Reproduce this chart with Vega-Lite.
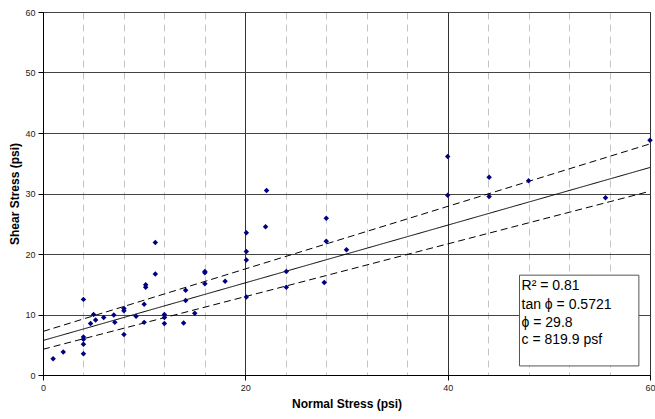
{
  "$schema": "https://vega.github.io/schema/vega-lite/v6.json",
  "autosize": "none",
  "width": 607,
  "height": 363,
  "padding": {"left": 43, "top": 12, "right": 5, "bottom": 44},
  "background": "white",
  "config": {
    "font": "Liberation Sans",
    "view": {"stroke": "#555555", "strokeWidth": 1}
  },
  "datasets": {
    "points": [
      {"normal": 1, "shear": 2.7}, {"normal": 2, "shear": 3.8}, {"normal": 4, "shear": 12.5},
      {"normal": 4, "shear": 6.3}, {"normal": 4, "shear": 5.9}, {"normal": 4, "shear": 5.1},
      {"normal": 4, "shear": 3.5}, {"normal": 4.7, "shear": 8.5}, {"normal": 5, "shear": 10.0},
      {"normal": 5.2, "shear": 9.1}, {"normal": 6, "shear": 9.5}, {"normal": 7, "shear": 9.9},
      {"normal": 7.1, "shear": 8.7}, {"normal": 8, "shear": 11.0}, {"normal": 8, "shear": 10.6},
      {"normal": 8, "shear": 6.7}, {"normal": 9.2, "shear": 9.7}, {"normal": 10, "shear": 11.7},
      {"normal": 10, "shear": 8.7}, {"normal": 10.15, "shear": 14.9}, {"normal": 10.15, "shear": 14.5},
      {"normal": 11.1, "shear": 21.9}, {"normal": 11.1, "shear": 16.7}, {"normal": 12, "shear": 10.0},
      {"normal": 12, "shear": 9.5}, {"normal": 12, "shear": 8.5}, {"normal": 14.1, "shear": 14.0},
      {"normal": 14.1, "shear": 12.3}, {"normal": 13.9, "shear": 8.6}, {"normal": 15, "shear": 10.2},
      {"normal": 16, "shear": 17.1}, {"normal": 16, "shear": 16.9}, {"normal": 16, "shear": 15.1},
      {"normal": 18, "shear": 15.5}, {"normal": 20.1, "shear": 23.5}, {"normal": 20.1, "shear": 20.4},
      {"normal": 20.1, "shear": 19.0}, {"normal": 20.1, "shear": 12.9}, {"normal": 22.1, "shear": 30.5},
      {"normal": 22, "shear": 24.5}, {"normal": 24.05, "shear": 17.1}, {"normal": 24.05, "shear": 14.5},
      {"normal": 28, "shear": 25.9}, {"normal": 28, "shear": 22.1}, {"normal": 27.8, "shear": 15.3},
      {"normal": 30, "shear": 20.7}, {"normal": 40, "shear": 36.1}, {"normal": 40, "shear": 29.7},
      {"normal": 44.1, "shear": 32.7}, {"normal": 44.1, "shear": 29.5}, {"normal": 48, "shear": 32.1},
      {"normal": 55.6, "shear": 29.3}, {"normal": 60, "shear": 38.8}
    ],
    "lines": [
      {"series": "fit", "normal": 0, "shear": 5.7}, {"series": "fit", "normal": 60, "shear": 34.3},
      {"series": "upper", "normal": 0, "shear": 7.2}, {"series": "upper", "normal": 60, "shear": 38.2},
      {"series": "lower", "normal": 0, "shear": 4.25}, {"series": "lower", "normal": 59.6, "shear": 30.2}
    ],
    "stats": [
      {"label": "R² = 0.81", "shear": 14.7},
      {"label": "tan ϕ = 0.5721", "shear": 11.6},
      {"label": "ϕ = 29.8", "shear": 8.6},
      {"label": "c = 819.9 psf", "shear": 5.8}
    ]
  },
  "layer": [
    {
      "data": {"name": "lines"},
      "mark": {"type": "line", "color": "black", "strokeWidth": 1},
      "encoding": {
        "x": {
          "field": "normal", "type": "quantitative",
          "scale": {"domain": [0, 60], "nice": false},
          "axis": {
            "title": "Normal Stress (psi)",
            "values": [0,2,4,6,8,10,12,14,16,18,20,22,24,26,28,30,32,34,36,38,40,42,44,46,48,50,52,54,56,58,60],
            "labelExpr": "datum.value % 10 === 0 ? datum.label : ''",
            "labelFontSize": 9, "labelColor": "#222222", "labelPadding": 3,
            "labelFlush": false,
            "domainColor": "black", "domainWidth": 1,
            "tickColor": "black",
            "tickSize": {"condition": {"test": "datum.value % 10 === 0", "value": 5}, "value": 0},
            "grid": true,
            "gridColor": {"condition": {"test": "datum.value % 10 === 0", "value": "#333333"}, "value": "#c4c4c4"},
            "gridDash": {"condition": {"test": "datum.value % 10 === 0", "value": []}, "value": [7, 5]},
            "gridWidth": 1,
            "titleFontSize": 12, "titleFontWeight": "bold", "titleColor": "black", "titlePadding": 6
          }
        },
        "y": {
          "field": "shear", "type": "quantitative",
          "scale": {"domain": [0, 60], "nice": false},
          "axis": {
            "title": "Shear Stress (psi)",
            "values": [0,10,20,30,40,50,60],
            "labelFontSize": 9, "labelColor": "#222222", "labelPadding": 3,
            "labelFlush": false,
            "domainColor": "black", "domainWidth": 1,
            "tickColor": "black", "tickSize": 5,
            "grid": true, "gridColor": "#444444", "gridWidth": 1,
            "titleFontSize": 12, "titleFontWeight": "bold", "titleColor": "black", "titlePadding": 3
          }
        },
        "detail": {"field": "series"},
        "strokeDash": {
          "field": "series", "type": "nominal",
          "scale": {"domain": ["fit", "upper", "lower"], "range": [[1, 0], [7, 4], [7, 4]]},
          "legend": null
        }
      }
    },
    {
      "data": {"name": "points"},
      "mark": {"type": "point", "shape": "diamond", "filled": true, "color": "#000080", "size": 30, "opacity": 1},
      "encoding": {
        "x": {"field": "normal", "type": "quantitative"},
        "y": {"field": "shear", "type": "quantitative"}
      }
    },
    {
      "data": {"values": [{}]},
      "mark": {"type": "rect", "fill": "white", "stroke": "#555555", "strokeWidth": 1},
      "encoding": {
        "x": {"datum": 47.1, "type": "quantitative"},
        "x2": {"datum": 58.9},
        "y": {"datum": 16.5, "type": "quantitative"},
        "y2": {"datum": 1.5}
      }
    },
    {
      "data": {"name": "stats"},
      "mark": {"type": "text", "align": "left", "baseline": "middle", "fontSize": 14, "color": "black"},
      "encoding": {
        "x": {"datum": 47.3, "type": "quantitative"},
        "y": {"field": "shear", "type": "quantitative"},
        "text": {"field": "label"}
      }
    }
  ]
}
